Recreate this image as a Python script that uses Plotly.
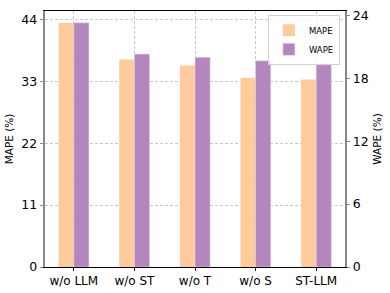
import plotly.graph_objects as go

categories = ["w/o LLM", "w/o ST", "w/o T", "w/o S", "ST-LLM"]
mape = [43.35, 36.85, 35.8, 33.6, 33.3]
wape = [23.28, 20.3, 20.0, 19.66, 19.27]
left_ticks = [0, 11, 22, 33, 44]
right_ticks = [0, 6, 12, 18, 24]

xpos = list(range(len(categories)))
FONT = "DejaVu Sans"

fig = go.Figure()
fig.add_trace(go.Bar(x=xpos, y=mape, name="MAPE", marker=dict(color="#FECC9C", line=dict(width=0)),
                     offset=-0.25, width=0.25, yaxis="y"))
fig.add_trace(go.Bar(x=xpos, y=wape, name="WAPE", marker=dict(color="#B386BD", line=dict(width=0.6, color="#E8D5EC")),
                     offset=0, width=0.25, yaxis="y2"))

fig.update_layout(
    width=390, height=293,
    margin=dict(l=45, r=45, t=11, b=26, autoexpand=False),
    plot_bgcolor="white", paper_bgcolor="white",
    font=dict(family=FONT, color="black"),
    showlegend=True,
    legend=dict(x=0.983, y=0.985, xanchor="right", yanchor="top",
                bgcolor="rgba(255,255,255,0.8)", bordercolor="#D0D0D0", borderwidth=1,
                font=dict(size=8.5, family=FONT), itemwidth=30, tracegroupgap=0),
    xaxis=dict(range=[-0.475, 4.475], tickvals=xpos, ticktext=categories, automargin=False,
               showgrid=True, gridcolor="#C8C8C8", griddash="3px,2px", gridwidth=1,
               showline=True, linecolor="black", linewidth=1, mirror=True,
               ticks="outside", ticklen=3, tickcolor="black",
               tickfont=dict(size=12, family=FONT), zeroline=False),
    yaxis=dict(range=[0, 45.47], tickvals=left_ticks, automargin=False,
               showgrid=True, gridcolor="#C8C8C8", griddash="3px,2px", gridwidth=1,
               showline=True, linecolor="#888888", linewidth=1.5,
               ticks="outside", ticklen=3.5, tickcolor="#888888",
               tickfont=dict(size=12.5, family=FONT), zeroline=False,
               title=dict(text="MAPE (%)", font=dict(size=10.5, family=FONT), standoff=6)),
    yaxis2=dict(range=[0, 24.41], tickvals=right_ticks, overlaying="y", side="right", automargin=False,
                showgrid=False, showline=True, linecolor="#888888", linewidth=1.5,
                ticks="outside", ticklen=3.5, tickcolor="#888888",
                tickfont=dict(size=12.5, family=FONT), zeroline=False,
                title=dict(text="WAPE (%)", font=dict(size=10.5, family=FONT), standoff=6)),
)

fig.write_html("out.html", config={"displayModeBar": False},
               post_script="document.body.style.margin='0px';")
